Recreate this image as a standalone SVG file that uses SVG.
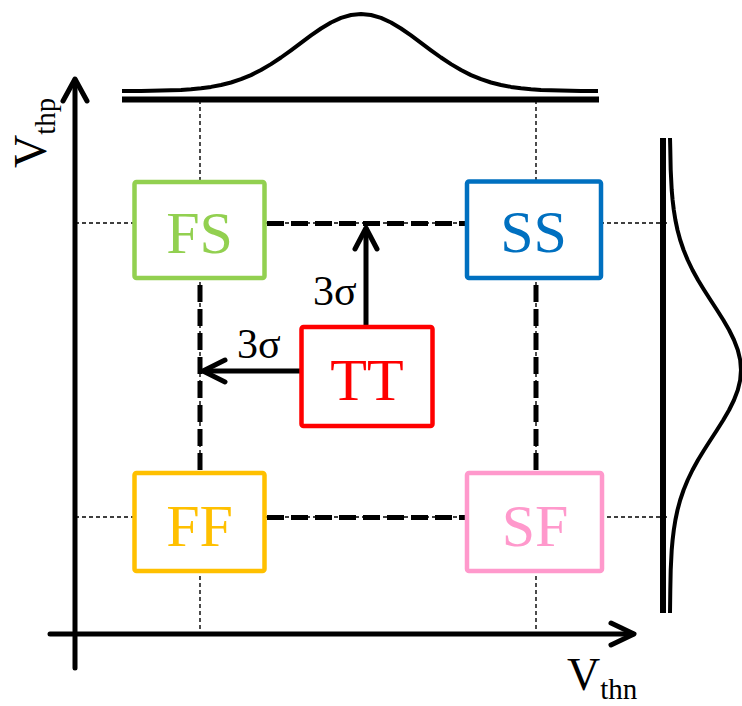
<svg xmlns="http://www.w3.org/2000/svg" width="742" height="706" viewBox="0 0 742 706">
<defs>
<style>
.guide{stroke:#000;stroke-width:1.4;stroke-dasharray:4 3;fill:none}
.conn{stroke:#000;stroke-width:5;stroke-dasharray:17 7;fill:none}
.axis{stroke:#000;stroke-width:5;fill:none;stroke-linecap:round;stroke-linejoin:round}
.arrow{stroke:#000;stroke-width:5;fill:none;stroke-linecap:round;stroke-linejoin:round}
.curve{stroke:#000;stroke-width:4;fill:none;stroke-linejoin:round}
.box{fill:#fff;stroke-width:4.5}
.lbl{font-family:"Liberation Serif","Times New Roman",serif;font-size:60px;text-anchor:middle}
.sig{font-family:"Liberation Serif","Times New Roman",serif;font-size:42px;fill:#000}
.ax{font-family:"Liberation Serif","Times New Roman",serif;font-size:46px;fill:#000}
</style>
</defs>
<rect width="742" height="706" fill="#fff"/>
<g id="guides">
<line class="guide" x1="200" y1="100" x2="200" y2="633"/>
<line class="guide" x1="536" y1="100" x2="536" y2="633"/>
<line class="guide" x1="75" y1="223" x2="670" y2="223"/>
<line class="guide" x1="75" y1="517" x2="670" y2="517"/>
</g>
<g id="distributions">
<line x1="122" y1="99.5" x2="599" y2="99.5" stroke="#000" stroke-width="6"/>
<polyline class="curve" points="122,91 141,90.9 161,90.6 181,89.9 191,89.2 201,88.2 211,86.9 221,85 231,82.5 241,79.2 251,75.1 261,70 271,64.1 281,57.5 291,50.3 301,42.8 311,35.4 321,28.5 331,22.5 341,17.9 351,15 361,14 371,15 381,17.9 391,22.5 401,28.5 411,35.4 421,42.8 431,50.3 441,57.5 451,64.1 461,70 471,75.1 481,79.2 491,82.5 501,85 511,86.9 521,88.2 531,89.2 541,89.9 561,90.6 581,90.9 598,91"/>
<line x1="663" y1="138" x2="663" y2="613" stroke="#000" stroke-width="6"/>
<polyline class="curve" points="670,138 670.3,150 670.7,170 671.7,190 672.6,200 673.8,210 675.4,220 677.5,230 680.2,240 683.6,250 687.7,260 692.5,270 698,280 704.1,290 710.5,300 717,310 723.3,320 729.1,330 734,340 737.8,350 740.2,360 741,370 740.2,380 737.8,390 734,400 729.1,410 723.3,420 717,430 710.5,440 704.1,450 698,460 692.5,470 687.7,480 683.6,490 680.2,500 677.5,510 675.4,520 673.8,530 672.6,540 671.7,550 670.7,570 670.3,590 670,613"/>
</g>
<g id="axes">
<line class="axis" x1="75" y1="668" x2="75" y2="80"/>
<polyline class="axis" points="63,101 75,79 87,101"/>
<line class="axis" x1="50" y1="634" x2="633" y2="634"/>
<polyline class="axis" points="611,623 634,634 611,645"/>
<text class="ax" x="567" y="690">V<tspan font-size="29" dy="9">thn</tspan></text>
<text class="ax" transform="translate(46,168) rotate(-90)">V<tspan font-size="29" dy="9">thp</tspan></text>
</g>
<g id="connectors">
<line class="conn" x1="267" y1="223.5" x2="465" y2="223.5"/>
<line class="conn" x1="267" y1="517.5" x2="465" y2="517.5"/>
<line class="conn" x1="200" y1="285" x2="200" y2="471"/>
<line class="conn" x1="536" y1="285" x2="536" y2="471"/>
<line class="arrow" x1="366" y1="325" x2="366" y2="229"/>
<polyline class="arrow" points="355,249 366,228 377,249"/>
<line class="arrow" x1="300" y1="371" x2="204" y2="371"/>
<polyline class="arrow" points="225,360 203,371 225,382"/>
<text class="sig" x="313" y="305">3σ</text>
<text class="sig" x="237" y="358">3σ</text>
</g>
<g id="FS">
<rect class="box" x="134.5" y="182" width="130" height="96" rx="2" stroke="#92D050"/>
<text class="lbl" x="199.5" y="252.5" fill="#92D050">FS</text>
</g>
<g id="SS">
<rect class="box" x="467" y="181.5" width="134" height="96.5" rx="2" stroke="#0070C0"/>
<text class="lbl" x="533.5" y="252" fill="#0070C0">SS</text>
</g>
<g id="TT">
<rect class="box" x="301.5" y="327" width="131" height="99" rx="2" stroke="#FF0000"/>
<text class="lbl" x="367" y="400" fill="#FF0000">TT</text>
</g>
<g id="FF">
<rect class="box" x="134.5" y="473" width="130" height="98" rx="2" stroke="#FFC000"/>
<text class="lbl" x="199.5" y="546" fill="#FFC000">FF</text>
</g>
<g id="SF">
<rect class="box" x="467" y="473" width="135" height="98" rx="2" stroke="#FF99CC"/>
<text class="lbl" x="535" y="546" fill="#FF99CC">SF</text>
</g>
</svg>
